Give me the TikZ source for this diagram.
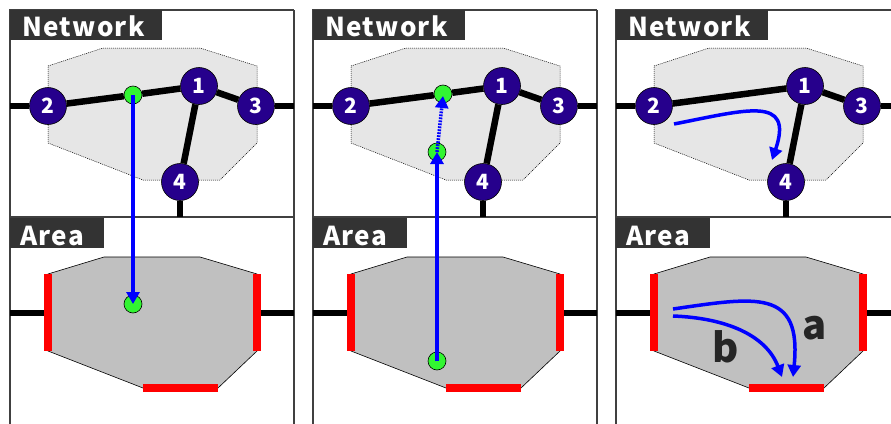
\documentclass[tikz,border=0pt]{standalone}
\usepackage{fontspec}
\usetikzlibrary{arrows.meta}
\newfontfamily\jfont[LetterSpace=5]{Noto Sans CJK JP}
\newfontfamily\nfont{Noto Sans CJK JP}
\definecolor{nodeblue}{RGB}{38,0,140}
\definecolor{dotgreen}{RGB}{50,245,50}
\definecolor{titlegray}{RGB}{51,51,51}
\definecolor{netgray}{RGB}{230,230,230}
\definecolor{areagray}{RGB}{192,192,192}
\begin{document}
\begin{tikzpicture}[x=1pt,y=-1pt,
  edge/.style={line width=6.5pt,black},
  rnode/.style={circle,draw=black,line width=0.6pt,fill=nodeblue,minimum size=37pt,inner sep=0pt,text=white,font=\nfont\bfseries\fontsize{21}{21}\selectfont},
  gdot/.style={circle,draw=black,line width=0.6pt,fill=dotgreen,minimum size=18pt,inner sep=0pt},
  flow/.style={blue,line width=3.5pt,-{Triangle[width=13pt,length=12pt]}},
  dotflow/.style={blue,line width=3.5pt,dash pattern=on 1.8pt off 1.2pt,-{Triangle[width=13pt,length=12pt]}},
  frame/.style={draw=black!75,line width=1.3pt},
  titletext/.style={text=white,font=\jfont\fontsize{26}{26}\selectfont,inner sep=0pt,anchor=base west},
  netpoly/.style={fill=netgray,draw=black,line width=0.5pt,dash pattern=on 1pt off 1pt},
  areapoly/.style={fill=areagray,draw=black,line width=0.6pt},
  redbar/.style={red,line width=8pt},
  letter/.style={text=black!85,font=\nfont\bfseries\fontsize{40}{40}\selectfont,inner sep=0pt}]
\useasboundingbox (0,0) rectangle (891,423);
\clip (0,0) rectangle (891,423);
\fill[white] (0,0) rectangle (891,423);

\newcommand\drawpanel[3]{% prefix, shift, right end
\begin{scope}[xshift=#2pt]
  \draw[frame] (10,440) -- (10,10) -- (#3,10);
  \draw[frame] (294,10) -- (294,440);
  \draw[frame] (10,217) -- (294,217);
  \fill[titlegray] (10,10) rectangle (162,40);
  \node[titletext] (#1tn) at (22,36) {\bfseries Network};
  \fill[titlegray] (10,218) rectangle (104,248);
  \node[titletext] (#1ta) at (20,245) {\bfseries Area};
  % network region
  \draw[netpoly] (48,66) -- (103,48) -- (200,48) -- (257,66) -- (257,143) -- (220,180) -- (143,180) -- (48,143) -- cycle;
  \node[rnode] (#1n1) at (199,86) {1};
  \node[rnode] (#1n2) at (48,106) {2};
  \node[rnode] (#1n3) at (256,106) {3};
  \node[rnode] (#1n4) at (180,182) {4};
  \coordinate (#1l) at (10,106);
  \coordinate (#1r) at (#3,106);
  \coordinate (#1d) at (180,217);
  \draw[edge] (#1l) -- (#1n2);
  \draw[edge] (#1n3) -- (#1r);
  \draw[edge] (#1n1) -- (#1n3);
  \draw[edge] (#1n1) -- (#1n4);
  \draw[edge] (#1n4) -- (#1d);
  % area
  \draw[areapoly] (48,274) -- (104,257) -- (200,257) -- (257,274) -- (257,351) -- (218,388) -- (143,388) -- (48,351) -- cycle;
  \coordinate (#1al) at (10,313);
  \coordinate (#1ar) at (#3,313);
  \coordinate (#1ale) at (44,313);
  \coordinate (#1are) at (261,313);
  \draw[edge] (#1al) -- (#1ale);
  \draw[edge] (#1are) -- (#1ar);
  \draw[redbar] (48,274) -- (48,351);
  \draw[redbar] (257,274) -- (257,351);
  \draw[redbar] (143,388) -- (218,388);
\end{scope}}

% Panel 1
\drawpanel{a}{0}{294}
\begin{scope}
  \node[gdot] (ag) at (133,95) {};
  \draw[edge] (an2) -- (ag);
  \draw[edge] (ag) -- (an1);
  \node[gdot] (aga) at (133,304) {};
  \draw[flow] (ag.center) -- (aga.center);
\end{scope}

% Panel 2
\drawpanel{b}{303}{294}
\begin{scope}[xshift=303pt]
  \node[gdot] (bg) at (140,94) {};
  \draw[edge] (bn2) -- (bg);
  \draw[edge] (bg) -- (bn1);
  \node[gdot] (bg2) at (134,152) {};
  \node[gdot] (bga) at (134,361) {};
  \draw[flow] (bga.center) -- (bg2.center);
  \draw[dotflow] (bg2.center) -- ([yshift=-2pt]bg.center);
\end{scope}

% Panel 3
\drawpanel{c}{606}{300}
\begin{scope}[xshift=606pt]
  \draw[edge] (cn2) -- (cn1);
  \coordinate (cs) at (68,124);
  \coordinate (ce) at (166,160);
  \draw[flow] (cs) .. controls (140,110) and (188,95) .. (ce);
  \coordinate (cas) at (67,309);
  \coordinate (cae) at (187,377);
  \coordinate (cbs) at (67,316);
  \coordinate (cbe) at (176,377);
  \draw[flow] (cas) .. controls (150,297) and (196,288) .. (cae);
  \draw[flow] (cbs) .. controls (120,318) and (160,335) .. (cbe);
  \node[letter] (cla) at (209,328) {a};
  \node[letter] (clb) at (120,347) {b};
\end{scope}
\end{tikzpicture}
\end{document}
